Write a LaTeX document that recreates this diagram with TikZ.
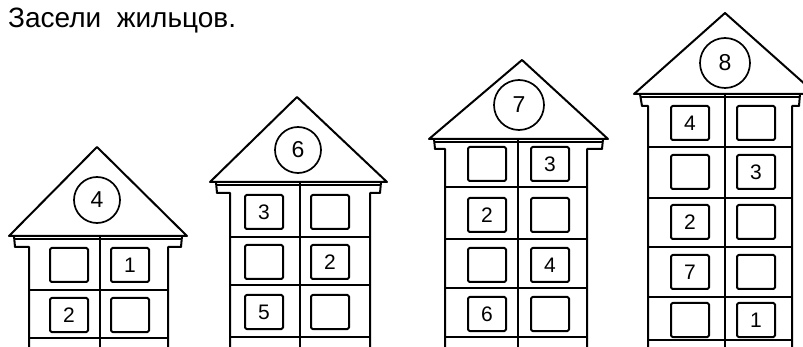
\documentclass[tikz,border=0pt]{standalone}
\usepackage{fontspec}
\setsansfont{Liberation Sans}

\begin{document}
\begin{tikzpicture}[x=1pt,y=-1pt,font=\sffamily,line join=round,
  wall/.style={line width=2pt},
  win/.style={draw,line width=2pt,rounded corners=1.5pt,minimum width=38pt,minimum height=34pt,inner sep=0pt,font=\sffamily\fontsize{21}{22}\selectfont},
  flat/.style={draw,circle,line width=1.7pt,minimum size=46pt,inner sep=0pt,font=\sffamily\fontsize{23}{24}\selectfont}]
  \clip (0,0) rectangle (803,347);
  \node[anchor=base west,inner sep=0pt,font=\sffamily\fontsize{28}{30}\selectfont] (title) at (8,28) {Засели\ \ жильцов.};

  % house 4
  \draw[wall] (9,236) -- (97,147) -- (187,236) -- cycle;
  \draw[wall] (14,239) -- (182,239);
  \draw[wall] (14,236) -- (15,247) -- (29,247) -- (29,347);
  \draw[wall] (182,236) -- (181,247) -- (168,247) -- (168,347);
  \draw[wall] (100,236) -- (100,347);
  \foreach \y in {290,338} \draw[wall] (29,\y) -- (168,\y);
  \node[flat] (h4) at (97,200) {4};
  \foreach \n/\x/\y/\lab in {1/69/265/{},2/130/265/1,3/69/315/2,4/130/315/{}}
    \node[win] (h4w\n) at (\x,\y) {\lab};

  % house 6
  \draw[wall] (210,182) -- (297,97) -- (387,182) -- cycle;
  \draw[wall] (216,185) -- (381,185);
  \draw[wall] (216,182) -- (217,193) -- (230,193) -- (230,347);
  \draw[wall] (381,182) -- (380,193) -- (370,193) -- (370,347);
  \draw[wall] (300,182) -- (300,347);
  \foreach \y in {237,285,337} \draw[wall] (230,\y) -- (370,\y);
  \node[flat] (h6) at (298,150) {6};
  \foreach \n/\x/\y/\lab in {1/264/212/3,2/330/212/{},3/264/262/{},4/330/262/2,5/264/312/5,6/330/312/{}}
    \node[win] (h6w\n) at (\x,\y) {\lab};

  % house 7
  \draw[wall] (429,139) -- (522,60) -- (608,139) -- cycle;
  \draw[wall] (434,142) -- (603,142);
  \draw[wall] (434,139) -- (435,149) -- (445,149) -- (445,347);
  \draw[wall] (603,139) -- (602,149) -- (587,149) -- (587,347);
  \draw[wall] (518,139) -- (518,347);
  \foreach \y in {187,239,288,337} \draw[wall] (445,\y) -- (587,\y);
  \node[flat,minimum size=50pt] (h7) at (519,105) {7};
  \foreach \n/\x/\y/\lab in {1/487/164/{},2/550/164/3,3/487/215/2,4/550/215/{},5/487/265/{},6/550/265/4,7/487/314/6,8/550/314/{}}
    \node[win] (h7w\n) at (\x,\y) {\lab};

  % house 8
  \draw[wall] (634,94) -- (725,13) -- (816,94) -- cycle;
  \draw[wall] (640,97) -- (800,97);
  \draw[wall] (640,94) -- (642,106) -- (648,106) -- (648,347);
  \draw[wall] (800,94) -- (799,106) -- (792,106) -- (792,347);
  \draw[wall] (725,94) -- (725,347);
  \foreach \y in {147,198,247,297,340} \draw[wall] (648,\y) -- (792,\y);
  \node[flat,minimum size=50pt] (h8) at (725,63) {8};
  \foreach \n/\x/\y/\lab in {1/690/123/4,2/756/123/{},3/690/172/{},4/756/172/3,5/690/222/2,6/756/222/{},7/690/272/7,8/756/272/{},9/690/320/{},10/756/320/1}
    \node[win] (h8w\n) at (\x,\y) {\lab};
\end{tikzpicture}
\end{document}
